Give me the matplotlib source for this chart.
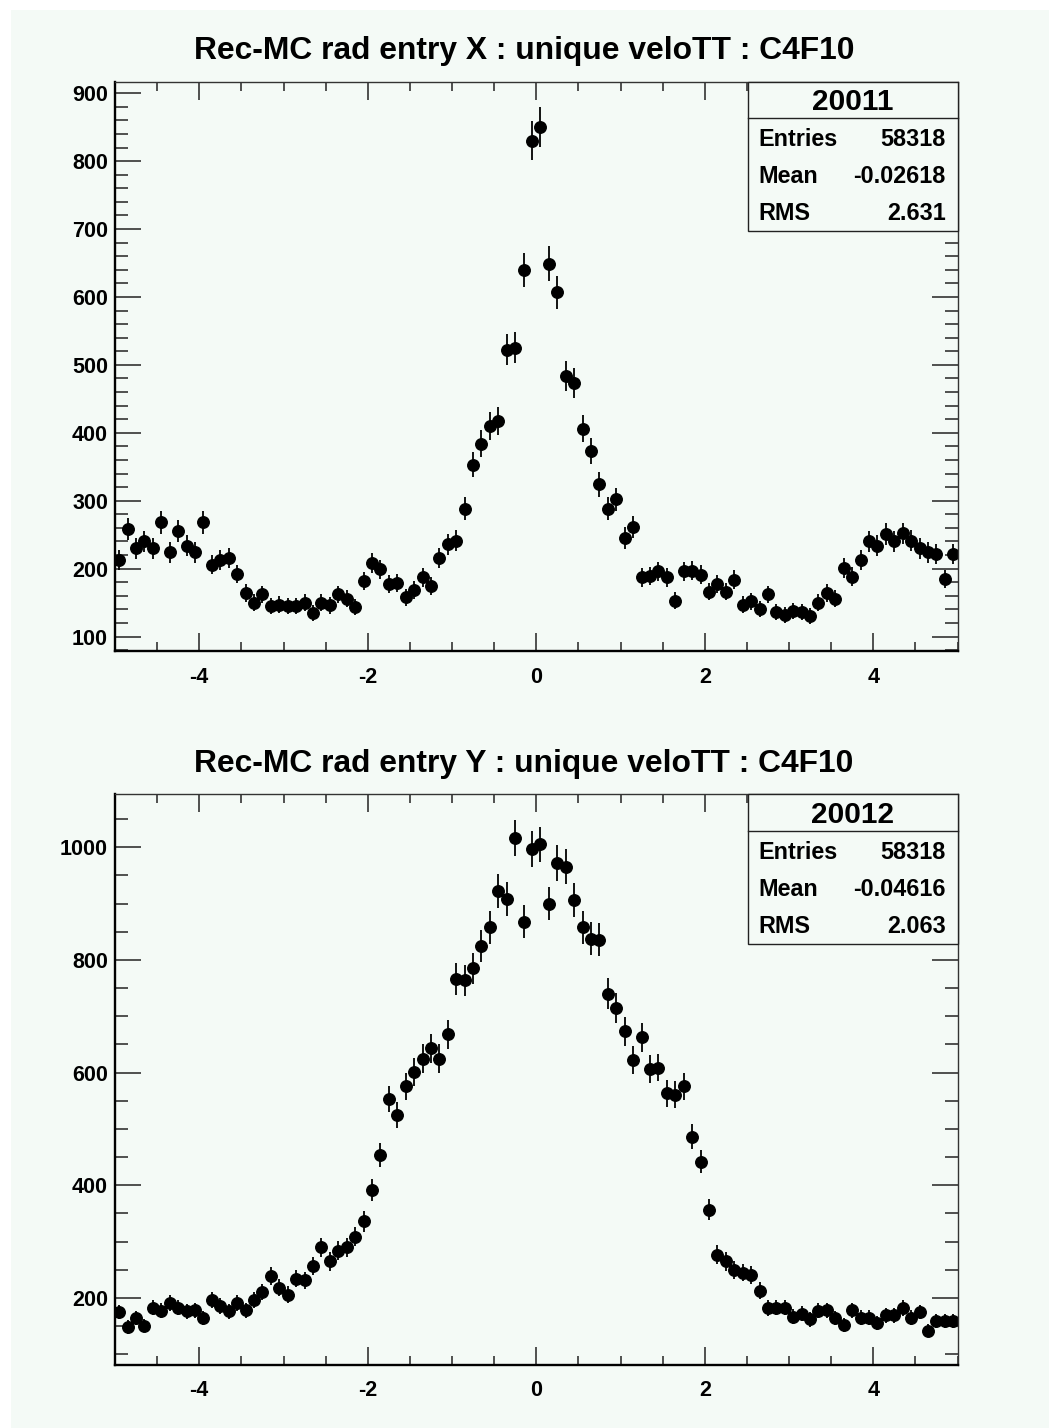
import numpy as np
import matplotlib
matplotlib.use('Agg')
import matplotlib.pyplot as plt
from matplotlib.patches import Rectangle
from matplotlib.lines import Line2D
from matplotlib.ticker import MultipleLocator

# histogram binning: 100 bins from -5 to 5
bin_edges = np.linspace(-5, 5, 101)
bin_centres = 0.5 * (bin_edges[:-1] + bin_edges[1:])

# bin contents
counts_x = [213, 259, 230, 240, 230, 268, 224, 255, 234, 224,
            268, 206, 213, 215, 192, 164, 150, 162, 145, 147,
            145, 145, 150, 135, 150, 146, 162, 156, 143, 182,
            208, 199, 177, 179, 158, 169, 187, 174, 216, 236,
            241, 288, 353, 384, 410, 417, 522, 525, 640, 830,
            850, 649, 607, 484, 473, 406, 373, 324, 288, 302,
            245, 261, 187, 189, 196, 187, 153, 196, 197, 191,
            166, 177, 166, 184, 147, 152, 141, 162, 136, 132,
            138, 136, 130, 150, 164, 156, 201, 188, 213, 240,
            234, 251, 240, 252, 241, 230, 224, 222, 185, 221]

counts_y = [175, 149, 164, 151, 183, 177, 191, 183, 176, 178,
            164, 196, 186, 176, 191, 178, 196, 210, 239, 218,
            206, 234, 231, 257, 290, 265, 284, 290, 309, 336,
            391, 453, 553, 525, 576, 601, 625, 643, 625, 668,
            766, 764, 785, 825, 858, 923, 908, 1016, 868, 997,
            1005, 900, 972, 965, 906, 858, 838, 836, 740, 715,
            673, 622, 663, 606, 609, 563, 561, 576, 486, 442,
            357, 277, 265, 250, 245, 241, 213, 182, 183, 183,
            167, 172, 162, 177, 178, 164, 152, 178, 165, 165,
            155, 169, 169, 182, 165, 175, 142, 159, 159, 159]

titles = ['Rec-MC rad entry X : unique veloTT : C4F10',
          'Rec-MC rad entry Y : unique veloTT : C4F10']
hist_ids = ['20011', '20012']
entries = ['58318', '58318']
means = ['-0.02618', '-0.04616']
rms_vals = ['2.631', '2.063']

W, H = 1049, 1428
bg = '#f4faf6'

plt.rcParams['font.family'] = ['Liberation Sans', 'DejaVu Sans']
plt.rcParams['font.weight'] = 'bold'
plt.rcParams['axes.unicode_minus'] = False


def fx(px):
    return px / W


def fy(py):
    return 1 - py / H


fig = plt.figure(figsize=(W / 100, H / 100), dpi=100)
fig.patch.set_facecolor('white')
fig.add_artist(Rectangle((fx(11), 0), 1 - fx(11), fy(10), transform=fig.transFigure,
                         facecolor=bg, edgecolor='none', zorder=-10))

# panel geometry in pixels: (top, bottom) of frame, y limits, tick steps
panels = [
    dict(top=81.7, bottom=651.5, ylim=(78, 917), major=100, minor=20, title_y=50,
         box_bottom=231, sep=118.3, rows=(139, 176.5, 213), head=102),
    dict(top=794.3, bottom=1365, ylim=(81, 1094), major=200, minor=50, title_y=763,
         box_bottom=944, sep=830.7, rows=(852.5, 889.5, 926.5), head=815),
]
left, right = 115, 957.5
counts_all = [counts_x, counts_y]

for i, p in enumerate(panels):
    ax = fig.add_axes([fx(left), fy(p['bottom']), (right - left) / W, (p['bottom'] - p['top']) / H])
    ax.set_facecolor(bg)
    counts = np.array(counts_all[i], dtype=float)
    ax.errorbar(bin_centres, counts, yerr=np.sqrt(counts), xerr=0.05, fmt='o',
                color='black', ms=8.3, elinewidth=1.3, capsize=0)
    ax.set_xlim(-5, 5)
    ax.set_ylim(*p['ylim'])
    ax.xaxis.set_major_locator(MultipleLocator(2))
    ax.xaxis.set_minor_locator(MultipleLocator(0.5))
    ax.yaxis.set_major_locator(MultipleLocator(p['major']))
    ax.yaxis.set_minor_locator(MultipleLocator(p['minor']))
    ax.tick_params(which='both', direction='in', top=True, right=True, width=1.1, color='#222222')
    ax.tick_params(axis='x', which='major', length=13, pad=11, labelsize=15.5)
    ax.tick_params(axis='x', which='minor', length=6.5)
    ax.tick_params(axis='y', which='major', length=18.7, pad=5, labelsize=15.5)
    ax.tick_params(axis='y', which='minor', length=9.4)
    for side in ['left', 'bottom']:
        ax.spines[side].set_linewidth(1.7)
    for side in ['top', 'right']:
        ax.spines[side].set_linewidth(1.0)
        ax.spines[side].set_color('#333333')

    fig.text(fx(524), fy(p['title_y'] + 1), titles[i], ha='center', va='center',
             fontsize=22.9, fontweight='bold')

    # stats box
    bx0, bx1 = 748.3, right
    fig.add_artist(Rectangle((fx(bx0), fy(p['box_bottom'])), fx(bx1) - fx(bx0),
                             fy(p['top']) - fy(p['box_bottom']), transform=fig.transFigure,
                             facecolor=bg, edgecolor='#222222', lw=1.0, zorder=2))
    fig.add_artist(Line2D([fx(bx0), fx(bx1)], [fy(p['sep']), fy(p['sep'])],
                          transform=fig.transFigure, color='#222222', lw=1.0, zorder=3))
    fig.text(fx((bx0 + bx1) / 2), fy(p['head']), hist_ids[i], ha='center', va='center',
             fontsize=21.5, fontweight='bold', zorder=4)
    for lab, val, ry in zip(['Entries', 'Mean', 'RMS'],
                            [entries[i], means[i], rms_vals[i]], p['rows']):
        fig.text(fx(758), fy(ry), lab, ha='left', va='center', fontsize=16.8,
                 fontweight='bold', zorder=4)
        fig.text(fx(946), fy(ry), val, ha='right', va='center', fontsize=16.8,
                 fontweight='bold', zorder=4)

fig.savefig('out.png', dpi=100, facecolor=fig.get_facecolor())
